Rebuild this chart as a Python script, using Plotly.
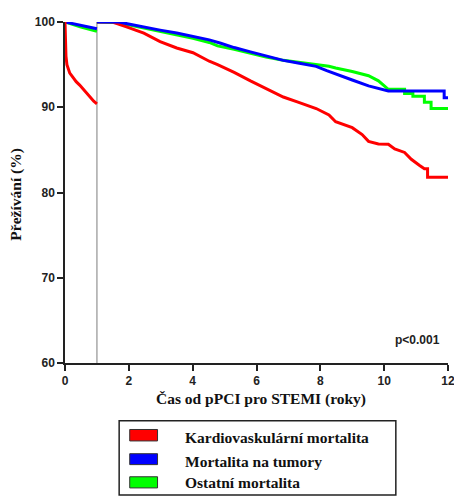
import plotly.graph_objects as go

# ---- data ----
series_names = ["Kardiovaskulární mortalita", "Mortalita na tumory", "Ostatní mortalita"]
series_colors = ["#FF0000", "#0000FF", "#00FF00"]

# first year (0-1)
red_early_x = [0, 0.01, 0.03, 0.06, 0.1, 0.15, 0.25, 0.35, 0.46, 0.6, 0.77, 0.9, 1.0]
red_early_y = [100, 98, 96, 95, 94.5, 94.0, 93.5, 93.0, 92.6, 92.0, 91.2, 90.7, 90.4]
blue_early_x = [0, 0.5, 1.0]
blue_early_y = [100, 99.6, 99.2]
green_early_x = [0, 0.5, 1.0]
green_early_y = [100, 99.4, 98.9]

# conditional survival after 1 year (1-12)
red_x = [1, 1.49, 1.95, 2.47, 2.98, 3.5, 4.01, 4.52, 4.78, 5.3, 5.81, 6.3, 6.84, 7.3, 7.87,
         8.27, 8.48, 9.0, 9.31, 9.51, 9.82, 10.13, 10.33, 10.64, 10.85, 11.1, 11.26, 11.36, 11.36, 12]
red_y = [100, 100, 99.4, 98.7, 97.7, 96.95, 96.4, 95.4, 95.0, 94.1, 93.1, 92.2, 91.2, 90.6, 89.85,
         89.1, 88.3, 87.6, 86.8, 86.0, 85.7, 85.65, 85.1, 84.7, 83.9, 83.2, 82.8, 82.8, 81.8, 81.8]

blue_x = [1, 1.7, 1.95, 2.47, 2.98, 3.5, 4.01, 4.52, 4.88, 5.3, 5.81, 6.3, 6.84, 7.3, 7.87,
          8.2, 8.48, 8.74, 9.0, 9.51, 10.13, 11.88, 11.88, 12]
blue_y = [100, 100, 99.8, 99.4, 99.05, 98.7, 98.3, 97.9, 97.5, 97.0, 96.5, 96.0, 95.5, 95.2, 94.8,
          94.3, 93.9, 93.5, 93.2, 92.5, 91.9, 91.9, 91.1, 91.1]

green_x = [1, 1.7, 1.95, 2.47, 2.98, 3.5, 4.01, 4.52, 4.78, 5.3, 5.81, 6.3, 6.84, 7.3, 7.87,
           8.27, 8.48, 8.74, 9.0, 9.51, 9.82, 10.13, 10.64, 10.64, 10.9, 10.9, 11.26, 11.26,
           11.47, 11.47, 12]
green_y = [100, 99.9, 99.7, 99.3, 98.9, 98.5, 98.1, 97.6, 97.2, 96.8, 96.3, 95.9, 95.5, 95.3, 95.0,
           94.8, 94.6, 94.4, 94.2, 93.7, 93.1, 92.1, 92.1, 91.6, 91.6, 91.3, 91.3, 90.6,
           90.6, 89.85, 89.85]

x_ticks = [0, 2, 4, 6, 8, 10, 12]
y_ticks = [60, 70, 80, 90, 100]
landmark_year = 1
p_text = "p<0.001"
x_title = "Čas od pPCI pro STEMI (roky)"
y_title = "Přežívání (%)"

fig = go.Figure()

early = [(red_early_x, red_early_y), (blue_early_x, blue_early_y), (green_early_x, green_early_y)]
late = [(red_x, red_y), (blue_x, blue_y), (green_x, green_y)]

for idx in [2, 1, 0]:
    ex, ey = early[idx]
    fig.add_trace(go.Scatter(x=ex, y=ey, mode="lines", name=series_names[idx],
                             line=dict(color=series_colors[idx], width=3),
                             showlegend=False, cliponaxis=False, hoverinfo="skip"))
for idx in [2, 0, 1]:
    lx, ly = late[idx]
    fig.add_trace(go.Scatter(x=lx, y=ly, mode="lines", name=series_names[idx],
                             line=dict(color=series_colors[idx], width=3),
                             showlegend=False, cliponaxis=False, hoverinfo="skip"))

# landmark separator line
fig.add_shape(type="line", xref="x", yref="y", x0=landmark_year, x1=landmark_year,
              y0=60, y1=100.35, line=dict(color="#A8A8A8", width=1.5), layer="below")

tick_font = dict(family="Liberation Sans, Arial, sans-serif", size=12, color="#222222", weight="bold")

fig.update_xaxes(range=[0, 12], tickvals=x_ticks, ticktext=[str(v) for v in x_ticks],
                 showgrid=False, zeroline=False, showline=True, linecolor="#222222", linewidth=1.5,
                 ticks="outside", ticklen=6, tickwidth=1.5, tickcolor="#222222",
                 tickfont=tick_font, layer="below traces")
fig.update_yaxes(range=[60, 100], tickvals=y_ticks, ticktext=[str(v) for v in y_ticks],
                 showgrid=False, zeroline=False, showline=True, linecolor="#222222", linewidth=1.5,
                 ticks="outside", ticklen=6, tickwidth=1.5, tickcolor="#222222",
                 tickfont=tick_font, layer="below traces")

title_font = dict(family="Liberation Serif, Times New Roman, serif", size=15.5, color="#111111", weight="bold")
annotations = [
    dict(text=x_title, xref="paper", yref="paper", x=0.513, y=-0.106, xanchor="center",
         yanchor="middle", showarrow=False, font=title_font),
    dict(text=y_title, xref="paper", yref="paper", x=-0.1285, y=0.496, xanchor="center",
         yanchor="middle", textangle=-90, showarrow=False, font=title_font),
    dict(text=p_text, xref="paper", yref="paper", x=0.92, y=0.068, xanchor="center",
         yanchor="middle", showarrow=False,
         font=dict(family="Liberation Sans, Arial, sans-serif", size=12, color="#222222", weight="bold")),
]

# manual legend box
shapes = [dict(type="rect", xref="paper", yref="paper", x0=0.1414, x1=0.8638, y0=-0.3873, y1=-0.1693,
               line=dict(color="#222222", width=1.5), fillcolor="rgba(0,0,0,0)")]
sw_y = [(-0.2286, -0.195), (-0.298, -0.266), (-0.3663, -0.3336)]
txt_y = [-0.2177, -0.2894, -0.350]
legend_font = dict(family="Liberation Serif, Times New Roman, serif", size=15.5, color="#111111", weight="bold")
for i in range(3):
    shapes.append(dict(type="rect", xref="paper", yref="paper", x0=0.169, x1=0.2416,
                       y0=sw_y[i][0], y1=sw_y[i][1], line=dict(color="#333333", width=1),
                       fillcolor=series_colors[i]))
    annotations.append(dict(text=series_names[i], xref="paper", yref="paper", x=0.3085, y=txt_y[i],
                            xanchor="left", yanchor="middle", showarrow=False, font=legend_font))

for s in shapes:
    fig.add_shape(**s)

# the page body adds an 8px margin, so the figure is sized to fit inside the window
fig.update_layout(width=454, height=492, margin=dict(l=57, r=8, t=7, b=137),
                  paper_bgcolor="white", plot_bgcolor="white", showlegend=False,
                  annotations=annotations)

fig.write_html("out.html")
